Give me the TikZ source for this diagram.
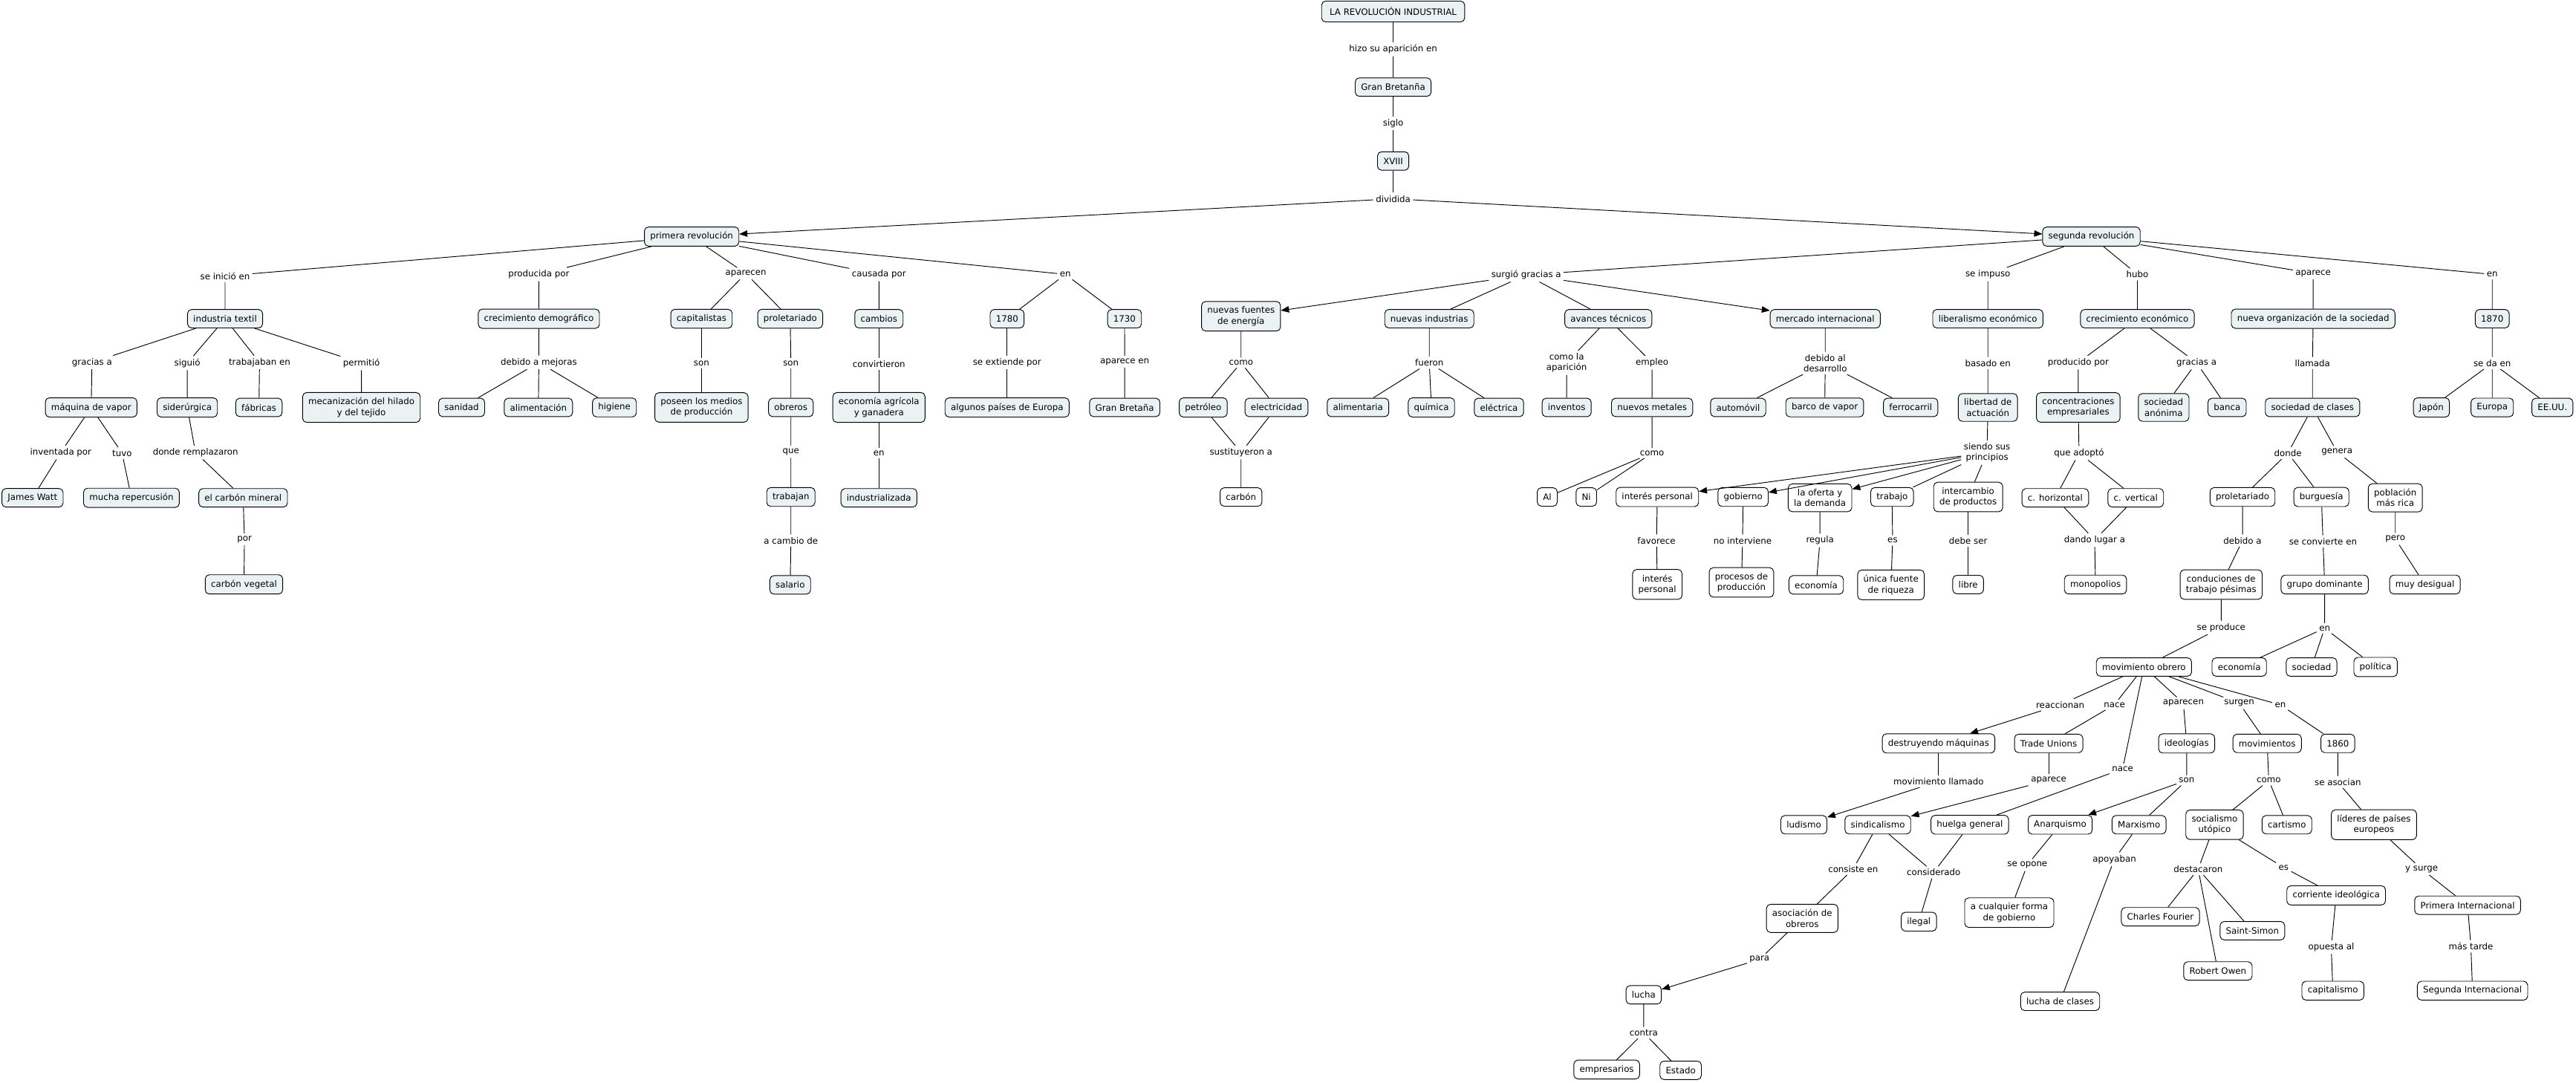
\documentclass[tikz,border=0pt]{standalone}
\usepackage{fontspec}
\setmainfont{DejaVu Sans}
\usetikzlibrary{arrows.meta}

\definecolor{fondo}{RGB}{235,242,244}

\begin{document}
\begin{tikzpicture}[x=0.05cm, y=-0.05cm, line width=0.6pt,
    every node/.style={font=\fontsize{7.6}{9.2}\selectfont},
    concepto/.style={draw, rounded corners=3.5pt, fill=fondo, align=center,
        inner xsep=5pt, inner ysep=4.5pt, minimum height=16pt},
    blanco/.style={concepto, fill=white},
    enlace/.style={align=center, inner sep=2pt},
    flecha/.style={-{Triangle[length=7pt,width=5.5pt]}}]
        \useasboundingbox (0,0) rectangle (1568,659);

        % Título
        \node[concepto, inner xsep=7pt, minimum height=18pt] (titulo) at (848,7) {LA REVOLUCIÓN INDUSTRIAL};
        \node[enlace] (hizo) at (848,30) {hizo su aparición en};
        \node[concepto] (gbr) at (848,53) {Gran Bretanña};
        \node[enlace] (siglo) at (848,75) {siglo};
        \node[concepto] (xviii) at (848,98) {XVIII};
        \node[enlace] (dividida) at (848,121) {dividida};
        \node[concepto] (primera) at (421,144) {primera revolución};
        \node[concepto] (segunda) at (1273,144) {segunda revolución};

        % Primera revolución
        \node[enlace] (inicio) at (137,168) {se inició en};
        \node[enlace] (producida) at (328,167) {producida por};
        \node[enlace] (aparecen) at (454,166.5) {aparecen};
        \node[enlace] (causada) at (535,167) {causada por};
        \node[enlace] (en1) at (648.5,167) {en};
        \node[concepto] (textil) at (137,194) {industria textil};
        \node[concepto] (demo) at (328,194) {crecimiento demográfico};
        \node[concepto] (capit) at (427,194) {capitalistas};
        \node[concepto] (prolet1) at (481,194) {proletariado};
        \node[concepto] (cambios) at (535,194) {cambios};
        \node[concepto] (a1780) at (613,194) {1780};
        \node[concepto] (a1730) at (684.5,194) {1730};

        % Industria textil
        \node[enlace] (gracias1) at (56,220.6) {gracias a};
        \node[enlace] (siguio) at (114,221) {siguió};
        \node[enlace] (trabajaban) at (158,220.6) {trabajaban en};
        \node[enlace] (permitio) at (220,221) {permitió};
        \node[concepto] (maquina) at (55.5,248) {máquina de vapor};
        \node[concepto] (siderurgica) at (114,248) {siderúrgica};
        \node[concepto] (fabricas) at (157.6,248) {fábricas};
        \node[concepto] (mecaniz) at (220,248) {mecanización del hilado\\y del tejido};
        \node[enlace] (inventada) at (37,275.4) {inventada por};
        \node[enlace] (tuvo) at (74.3,275.8) {tuvo};
        \node[enlace] (remplazaron) at (119,275.4) {donde remplazaron};
        \node[concepto] (watt) at (19.8,303) {James Watt};
        \node[concepto] (repercusion) at (80,303) {mucha repercusión};
        \node[concepto] (mineral) at (148,303) {el carbón mineral};
        \node[enlace] (por1) at (148.8,328.3) {por};
        \node[concepto] (vegetal) at (148.5,355.7) {carbón vegetal};

        % Crecimiento demográfico
        \node[enlace] (mejoras) at (328,220.6) {debido a mejoras};
        \node[concepto] (sanidad) at (281,248) {sanidad};
        \node[concepto] (alimentacion) at (327.7,248) {alimentación};
        \node[concepto] (higiene) at (374,248) {higiene};

        % Capitalistas y proletariado
        \node[enlace] (son1) at (427,221) {son};
        \node[enlace] (son2) at (481.4,221) {son};
        \node[concepto] (poseen) at (427,248) {poseen los medios\\de producción};
        \node[concepto] (obreros) at (481.4,248) {obreros};
        \node[enlace] (que) at (481.4,275) {que};
        \node[concepto] (trabajan) at (481.4,302.5) {trabajan};
        \node[enlace] (cambio) at (481.4,329) {a cambio de};
        \node[concepto] (salario) at (481,356) {salario};

        % Cambios
        \node[enlace] (convirtieron) at (535,221.5) {convirtieron};
        \node[concepto] (agricola) at (535,248) {economía agrícola\\y ganadera};
        \node[enlace] (en2) at (535,275.8) {en};
        \node[concepto] (industrializada) at (535,303) {industrializada};

        % Fechas
        \node[enlace] (extiende) at (613,220.7) {se extiende por};
        \node[enlace] (aparecen2) at (684.6,220.2) {aparece en};
        \node[concepto] (paises) at (613,248) {algunos países de Europa};
        \node[concepto] (gb2) at (684.6,248) {Gran Bretaña};

        % Segunda revolución
        \node[enlace] (surgio) at (929,167.3) {surgió gracias a};
        \node[enlace] (impuso) at (1210,167) {se impuso};
        \node[enlace] (hubo) at (1301,167) {hubo};
        \node[enlace] (aparece1) at (1408,166.4) {aparece};
        \node[enlace] (en3) at (1517,167) {en};
        \node[concepto] (fuentes) at (755.4,192.5) {nuevas fuentes\\de energía};
        \node[concepto] (industrias) at (870,194) {nuevas industrias};
        \node[concepto] (avances) at (979,194) {avances técnicos};
        \node[concepto] (mercado) at (1111,194) {mercado internacional};
        \node[concepto] (liberalismo) at (1210,194) {liberalismo económico};
        \node[concepto] (crecimiento) at (1301,194) {crecimiento económico};
        \node[concepto] (organizacion) at (1408,194) {nueva organización de la sociedad};
        \node[concepto] (a1870) at (1517,194) {1870};

        % Energía e industrias
        \node[enlace] (como1) at (755.4,220.8) {como};
        \node[concepto] (petroleo) at (732.4,248) {petróleo};
        \node[concepto] (electricidad) at (777,248) {electricidad};
        \node[enlace] (sustituyeron) at (755.4,275.4) {sustituyeron a};
        \node[blanco] (carbon) at (755.4,302.5) {carbón};
        \node[enlace] (fueron) at (870,220.8) {fueron};
        \node[concepto] (alimentaria) at (826.6,248) {alimentaria};
        \node[concepto] (quimica) at (871.3,248) {química};
        \node[concepto] (electrica) at (912.4,248) {eléctrica};

        % Avances técnicos
        \node[enlace] (aparicion) at (953.6,220.8) {como la\\aparición};
        \node[enlace] (empleo) at (1005.6,220.8) {empleo};
        \node[concepto] (inventos) at (953.6,248) {inventos};
        \node[concepto] (metales) at (1005.6,248) {nuevos metales};
        \node[enlace] (como2) at (1005.6,275.8) {como};
        \node[blanco] (al) at (941.8,302.5) {Al};
        \node[blanco] (ni) at (965.6,302.5) {Ni};

        % Mercado internacional
        \node[enlace] (desarrollo) at (1111,221) {debido al\\desarrollo};
        \node[concepto] (automovil) at (1058,248) {automóvil};
        \node[concepto] (barco) at (1110.7,248) {barco de vapor};
        \node[concepto] (ferrocarril) at (1163,248) {ferrocarril};

        % Liberalismo económico
        \node[enlace] (basado) at (1210,221) {basado en};
        \node[concepto] (libertad) at (1210,248) {libertad de\\actuación};
        \node[enlace] (principios) at (1209.5,275.5) {siendo sus\\principios};
        \node[blanco] (interes) at (1008.8,302.5) {interés personal};
        \node[blanco] (gobierno) at (1061,302.5) {gobierno};
        \node[blanco] (oferta) at (1107.8,303) {la oferta y\\la demanda};
        \node[blanco] (trabajo) at (1151.7,302.5) {trabajo};
        \node[blanco] (intercambio) at (1198,302.5) {intercambio\\de productos};
        \node[enlace] (favorece) at (1008.3,329) {favorece};
        \node[enlace] (interviene) at (1060.7,329) {no interviene};
        \node[enlace] (regula) at (1107.8,329) {regula};
        \node[enlace] (es1) at (1152,329) {es};
        \node[enlace] (debeser) at (1198,329) {debe ser};
        \node[blanco] (interes2) at (1008.8,355.7) {interés\\personal};
        \node[blanco] (procesos) at (1060,354.5) {procesos de\\producción};
        \node[blanco] (economia1) at (1105.5,356) {economía};
        \node[blanco] (riqueza) at (1151,356) {única fuente\\de riqueza};
        \node[blanco] (libre) at (1198,355.8) {libre};

        % Crecimiento económico
        \node[enlace] (producido) at (1265,220.7) {producido por};
        \node[enlace] (gracias2) at (1337,220.7) {gracias a};
        \node[concepto] (concentraciones) at (1265,248) {concentraciones\\empresariales};
        \node[concepto] (anonima) at (1317,248) {sociedad\\anónima};
        \node[concepto] (banca) at (1355.6,248) {banca};
        \node[enlace] (adopto) at (1265.5,275.8) {que adoptó};
        \node[blanco] (horizontal) at (1251,303) {c. horizontal};
        \node[blanco] (vertical) at (1300,303) {c. vertical};
        \node[enlace] (lugar) at (1275,328.7) {dando lugar a};
        \node[blanco] (monopolios) at (1275.5,355.8) {monopolios};

        % Nueva organización
        \node[enlace] (llamada) at (1407.6,221) {llamada};
        \node[concepto] (clases) at (1407.6,248) {sociedad de clases};
        \node[enlace] (donde) at (1392.6,275.8) {donde};
        \node[enlace] (genera) at (1422.5,275) {genera};
        \node[blanco] (prolet2) at (1365,302.5) {proletariado};
        \node[blanco] (burguesia) at (1413,302.5) {burguesía};
        \node[blanco] (rica) at (1458,303) {población\\más rica};
        \node[enlace] (debido) at (1365,329) {debido a};
        \node[enlace] (convierte) at (1414,329.5) {se convierte en};
        \node[enlace] (pero) at (1458,328) {pero};
        \node[blanco] (conduciones) at (1352,355.8) {conduciones de\\trabajo pésimas};
        \node[blanco] (grupo) at (1415,355.8) {grupo dominante};
        \node[blanco] (desigual) at (1476,355.8) {muy desigual};
        \node[enlace] (produce) at (1352,382) {se produce};
        \node[enlace] (en4) at (1415,382.4) {en};
        \node[blanco] (economia2) at (1363,406) {economía};
        \node[blanco] (sociedad) at (1407,406) {sociedad};
        \node[blanco] (politica) at (1446,406) {política};

        % 1870
        \node[enlace] (seda) at (1517,221) {se da en};
        \node[concepto] (japon) at (1480,248) {Japón};
        \node[concepto] (europa) at (1517,248) {Europa};
        \node[concepto] (eeuu) at (1553.6,248) {EE.UU.};

        % Movimiento obrero
        \node[blanco] (movimiento) at (1305,406) {movimiento obrero};
        \node[enlace] (reaccionan) at (1254,429) {reaccionan};
        \node[enlace] (nace1) at (1287,429) {nace};
        \node[enlace] (aparecen3) at (1329,428) {aparecen};
        \node[enlace] (surgen) at (1363,428) {surgen};
        \node[enlace] (en5) at (1388,429) {en};
        \node[enlace] (nace2) at (1292,468) {nace};
        \node[blanco] (destruyendo) at (1180,452.5) {destruyendo máquinas};
        \node[blanco] (trade) at (1247,452.5) {Trade Unions};
        \node[blanco] (ideologias) at (1331,452.5) {ideologías};
        \node[blanco] (movimientos) at (1380,452.5) {movimientos};
        \node[blanco] (a1860) at (1423,452.5) {1860};
        \node[enlace] (llamado) at (1180,475.6) {movimiento llamado};
        \node[enlace] (aparece2) at (1247,475) {aparece};
        \node[enlace] (son3) at (1331,475) {son};
        \node[enlace] (como3) at (1381,475) {como};
        \node[enlace] (asocian) at (1423,476) {se asocian};
        \node[blanco] (ludismo) at (1098,502) {ludismo};
        \node[blanco] (sindicalismo) at (1143,502) {sindicalismo};
        \node[blanco] (huelga) at (1199,502) {huelga general};
        \node[blanco] (anarquismo) at (1254,502) {Anarquismo};
        \node[blanco] (marxismo) at (1302,502) {Marxismo};
        \node[blanco] (utopico) at (1348,502) {socialismo\\utópico};
        \node[blanco] (cartismo) at (1392,502) {cartismo};
        \node[blanco] (lideres) at (1445,502) {líderes de países\\europeos};
        \node[enlace] (consiste) at (1128,529) {consiste en};
        \node[enlace] (considerado) at (1177,531) {considerado};
        \node[enlace] (opone) at (1234,526.5) {se opone};
        \node[enlace] (apoyaban) at (1287,523) {apoyaban};
        \node[enlace] (destacaron) at (1338,529) {destacaron};
        \node[enlace] (es2) at (1390,528) {es};
        \node[enlace] (surge) at (1474,529) {y surge};
        \node[blanco] (asociacion) at (1097,559) {asociación de\\obreros};
        \node[blanco] (ilegal) at (1168,561) {ilegal};
        \node[blanco] (cualquier) at (1223,555.5) {a cualquier forma\\de gobierno};
        \node[blanco] (fourier) at (1315,558) {Charles Fourier};
        \node[blanco] (simon) at (1371,566.5) {Saint-Simon};
        \node[blanco] (owen) at (1350,591) {Robert Owen};
        \node[blanco] (corriente) at (1422,545) {corriente ideológica};
        \node[blanco] (primerai) at (1502,551) {Primera Internacional};
        \node[enlace] (para) at (1071,584) {para};
        \node[enlace] (opuesta) at (1419,576.5) {opuesta al};
        \node[enlace] (tarde) at (1504,576) {más tarde};
        \node[blanco] (lucha) at (1000.5,605.5) {lucha};
        \node[blanco] (clasesl) at (1254,609.5) {lucha de clases};
        \node[blanco] (capitalismo) at (1420,603) {capitalismo};
        \node[blanco] (segundai) at (1505,603) {Segunda Internacional};
        \node[enlace] (contra) at (1000.5,628.7) {contra};
        \node[blanco] (empresarios) at (978,651) {empresarios};
        \node[blanco] (estado) at (1023,651.5) {Estado};

        % Uniones: parte superior
        \draw (titulo) -- (hizo) (hizo) -- (gbr) (gbr) -- (siglo) (siglo) -- (xviii) (xviii) -- (dividida);
        \draw[flecha] (dividida) -- (primera);
        \draw[flecha] (dividida) -- (segunda);

        % Uniones: primera revolución
        \draw (primera) -- (inicio) (inicio) -- (textil);
        \draw (primera) -- (producida) (producida) -- (demo);
        \draw (primera) -- (aparecen) (aparecen) -- (capit) (aparecen) -- (prolet1);
        \draw (primera) -- (causada) (causada) -- (cambios);
        \draw (primera) -- (en1) (en1) -- (a1780) (en1) -- (a1730);
        \draw (textil) -- (gracias1) (gracias1) -- (maquina);
        \draw (textil) -- (siguio) (siguio) -- (siderurgica);
        \draw (textil) -- (trabajaban) (trabajaban) -- (fabricas);
        \draw (textil) -- (permitio) (permitio) -- (mecaniz);
        \draw (maquina) -- (inventada) (inventada) -- (watt);
        \draw (maquina) -- (tuvo) (tuvo) -- (repercusion);
        \draw (siderurgica) -- (remplazaron) (remplazaron) -- (mineral);
        \draw (mineral) -- (por1) (por1) -- (vegetal);
        \draw (demo) -- (mejoras) (mejoras) -- (sanidad) (mejoras) -- (alimentacion) (mejoras) -- (higiene);
        \draw (capit) -- (son1) (son1) -- (poseen);
        \draw (prolet1) -- (son2) (son2) -- (obreros) (obreros) -- (que) (que) -- (trabajan);
        \draw (trabajan) -- (cambio) (cambio) -- (salario);
        \draw (cambios) -- (convirtieron) (convirtieron) -- (agricola) (agricola) -- (en2) (en2) -- (industrializada);
        \draw (a1780) -- (extiende) (extiende) -- (paises);
        \draw (a1730) -- (aparecen2) (aparecen2) -- (gb2);

        % Uniones: segunda revolución
        \draw (segunda) -- (surgio);
        \draw[flecha] (surgio) -- (fuentes);
        \draw (surgio) -- (industrias) (surgio) -- (avances);
        \draw[flecha] (surgio) -- (mercado);
        \draw (segunda) -- (impuso) (impuso) -- (liberalismo);
        \draw (segunda) -- (hubo) (hubo) -- (crecimiento);
        \draw (segunda) -- (aparece1) (aparece1) -- (organizacion);
        \draw (segunda) -- (en3) (en3) -- (a1870);
        \draw (fuentes) -- (como1) (como1) -- (petroleo) (como1) -- (electricidad);
        \draw (petroleo) -- (sustituyeron) (electricidad) -- (sustituyeron) (sustituyeron) -- (carbon);
        \draw (industrias) -- (fueron) (fueron) -- (alimentaria) (fueron) -- (quimica) (fueron) -- (electrica);
        \draw (avances) -- (aparicion) (aparicion) -- (inventos);
        \draw (avances) -- (empleo) (empleo) -- (metales) (metales) -- (como2) (como2) -- (al) (como2) -- (ni);
        \draw (mercado) -- (desarrollo) (desarrollo) -- (automovil) (desarrollo) -- (barco) (desarrollo) -- (ferrocarril);
        \draw (liberalismo) -- (basado) (basado) -- (libertad) (libertad) -- (principios);
        \draw[flecha] (principios) -- (interes);
        \draw[flecha] (principios) -- (gobierno);
        \draw[flecha] (principios) -- (oferta);
        \draw (principios) -- (trabajo) (principios) -- (intercambio);
        \draw (interes) -- (favorece) (favorece) -- (interes2);
        \draw (gobierno) -- (interviene) (interviene) -- (procesos);
        \draw (oferta) -- (regula) (regula) -- (economia1);
        \draw (trabajo) -- (es1) (es1) -- (riqueza);
        \draw (intercambio) -- (debeser) (debeser) -- (libre);
        \draw (crecimiento) -- (producido) (producido) -- (concentraciones) (concentraciones) -- (adopto);
        \draw (adopto) -- (horizontal) (adopto) -- (vertical);
        \draw (horizontal) -- (lugar) (vertical) -- (lugar) (lugar) -- (monopolios);
        \draw (crecimiento) -- (gracias2) (gracias2) -- (anonima) (gracias2) -- (banca);
        \draw (organizacion) -- (llamada) (llamada) -- (clases);
        \draw (clases) -- (donde) (donde) -- (prolet2) (donde) -- (burguesia);
        \draw (clases) -- (genera) (genera) -- (rica);
        \draw (prolet2) -- (debido) (debido) -- (conduciones) (conduciones) -- (produce) (produce) -- (movimiento);
        \draw (burguesia) -- (convierte) (convierte) -- (grupo) (grupo) -- (en4);
        \draw (en4) -- (economia2) (en4) -- (sociedad) (en4) -- (politica);
        \draw (rica) -- (pero) (pero) -- (desigual);
        \draw (a1870) -- (seda) (seda) -- (japon) (seda) -- (europa) (seda) -- (eeuu);

        % Uniones: movimiento obrero
        \draw (movimiento) -- (reaccionan);
        \draw[flecha] (reaccionan) -- (destruyendo);
        \draw (movimiento) -- (nace1) (nace1) -- (trade);
        \draw (movimiento) -- (nace2) (nace2) -- (huelga);
        \draw (movimiento) -- (aparecen3) (aparecen3) -- (ideologias) (ideologias) -- (son3);
        \draw[flecha] (son3) -- (anarquismo);
        \draw (son3) -- (marxismo);
        \draw (movimiento) -- (surgen) (surgen) -- (movimientos) (movimientos) -- (como3);
        \draw (como3) -- (utopico) (como3) -- (cartismo);
        \draw (movimiento) -- (en5) (en5) -- (a1860) (a1860) -- (asocian) (asocian) -- (lideres);
        \draw (lideres) -- (surge) (surge) -- (primerai) (primerai) -- (tarde) (tarde) -- (segundai);
        \draw (destruyendo) -- (llamado);
        \draw[flecha] (llamado) -- (ludismo);
        \draw (trade) -- (aparece2);
        \draw[flecha] (aparece2) -- (sindicalismo);
        \draw (sindicalismo) -- (consiste) (consiste) -- (asociacion) (asociacion) -- (para);
        \draw[flecha] (para) -- (lucha);
        \draw (lucha) -- (contra) (contra) -- (empresarios) (contra) -- (estado);
        \draw (sindicalismo) -- (considerado) (huelga) -- (considerado) (considerado) -- (ilegal);
        \draw (anarquismo) -- (opone) (opone) -- (cualquier);
        \draw (marxismo) -- (apoyaban) (apoyaban) -- (clasesl);
        \draw (utopico) -- (destacaron) (destacaron) -- (fourier) (destacaron) -- (simon) (destacaron) -- (owen);
        \draw (utopico) -- (es2) (es2) -- (corriente) (corriente) -- (opuesta) (opuesta) -- (capitalismo);
    \end{tikzpicture}
\end{document}
